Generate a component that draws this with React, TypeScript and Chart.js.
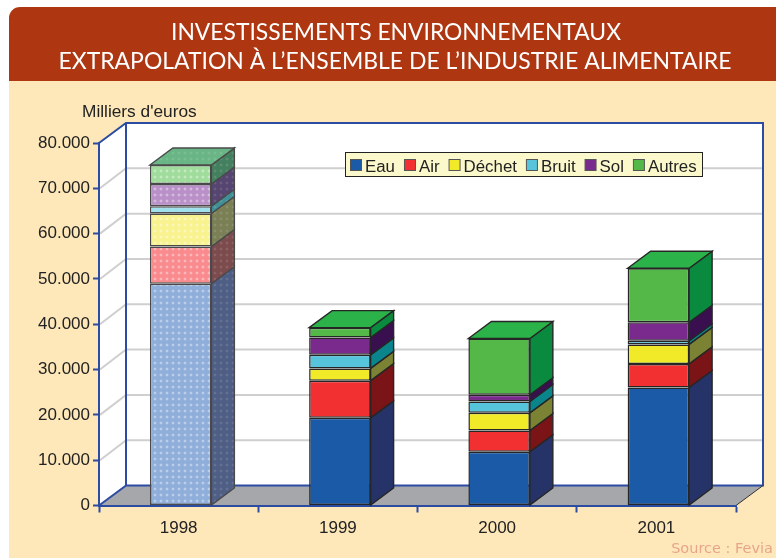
import React, { useEffect, useRef } from "react";
import { Chart, registerables } from "chart.js";

Chart.register(...registerables);

const categories = ["1998", "1999", "2000", "2001"];
const eau = [48950, 19350, 11850, 26050];
const air = [8200, 8200, 4700, 5200];
const dechet = [7300, 2700, 3900, 4300];
const bruit = [1600, 3000, 2500, 800];
const sol = [4900, 3800, 1500, 4100];
const autres = [4200, 2200, 12400, 11900];
const seriesNames = ["Eau", "Air", "Déchet", "Bruit", "Sol", "Autres"];
const seriesValues = [eau, air, dechet, bruit, sol, autres];

const frontColors = ["#1B5AA6", "#F23032", "#F0EA28", "#56C5DB", "#7A2A8C", "#54B848"];
const sideColors = ["#253368", "#7A1416", "#7C8233", "#0B858C", "#3A0F4F", "#0A8A3F"];
const paleFrontColors = ["#8FAEDA", "#F98A8E", "#F9F38F", "#A0E0EC", "#BA90C8", "#A0DC9C"];
const paleSideColors = ["#4F5E85", "#7C4B4E", "#7A7F55", "#3F8F96", "#564570", "#44805F"];
const topColor = "#2BB34A";
const paleTopColor = "#6AB585";
const patternedCategory = "1998";

const titleLines = ["INVESTISSEMENTS ENVIRONNEMENTAUX", "EXTRAPOLATION À L’ENSEMBLE DE L’INDUSTRIE ALIMENTAIRE"];
const unitLabel = "Milliers d'euros";
const sourceLabel = "Source : Fevia";

const FONT = '"Liberation Sans", Arial, sans-serif';
const BLUE = "#2C4CA3";
const CREAM = "#FEE8B9";
const WALL_DX = 27;
const WALL_DY = -20;
const BAR_DX = 23;
const BAR_DY = -17;
const BAR_SHIFT = 2;

function makePattern(base: string, alpha: number): CanvasPattern {
  const c = document.createElement("canvas");
  c.width = 6;
  c.height = 6;
  const g = c.getContext("2d")!;
  g.fillStyle = base;
  g.fillRect(0, 0, 6, 6);
  g.fillStyle = `rgba(255,255,255,${alpha * 0.45})`;
  g.fillRect(1, 2, 4, 2);
  g.fillRect(2, 1, 2, 4);
  g.fillStyle = `rgba(255,255,255,${alpha})`;
  g.fillRect(2, 2, 2, 2);
  return g.createPattern(c, "repeat")!;
}

function poly(ctx: CanvasRenderingContext2D, pts: number[][], fill: any, stroke: string) {
  ctx.beginPath();
  pts.forEach((p, i) => (i ? ctx.lineTo(p[0], p[1]) : ctx.moveTo(p[0], p[1])));
  ctx.closePath();
  ctx.fillStyle = fill;
  ctx.fill();
  ctx.strokeStyle = stroke;
  ctx.lineWidth = 1.4;
  ctx.stroke();
}

export default function App() {
  const ref = useRef<HTMLCanvasElement>(null);

  useEffect(() => {
    const isPatterned = (i: number) => categories[i] === patternedCategory;
    const frontFill = seriesNames.map((_, s) =>
      categories.map((_c, i) => (isPatterned(i) ? makePattern(paleFrontColors[s], 0.24) : frontColors[s]))
    );
    const sideFill = seriesNames.map((_, s) =>
      categories.map((_c, i) => (isPatterned(i) ? makePattern(paleSideColors[s], 0.07) : sideColors[s]))
    );
    const topPattern = makePattern(paleTopColor, 0.07);

    const scene = {
      id: "scene",
      beforeDraw(chart: any) {
        const ctx: CanvasRenderingContext2D = chart.ctx;
        const { left, right, top, bottom } = chart.chartArea;
        const y = chart.scales.y;
        ctx.save();
        ctx.fillStyle = "#FFFFFF";
        ctx.fillRect(0, 0, 776, 558);
        ctx.fillStyle = CREAM;
        ctx.fillRect(9, 81, 767, 477);
        ctx.fillStyle = "#AE3712";
        ctx.beginPath();
        ctx.roundRect(9, 7, 767, 74, [11, 0, 0, 0]);
        ctx.fill();
        ctx.fillStyle = "#FFFFFF";
        ctx.font = '24px Lato, "Open Sans", sans-serif';
        ctx.textAlign = "center";
        ctx.textBaseline = "alphabetic";
        ctx.fillText(titleLines[0], 396, 40, 450);
        ctx.fillText(titleLines[1], 395, 69, 673);

        ctx.fillStyle = "#222222";
        ctx.font = `17.3px ${FONT}`;
        ctx.textAlign = "left";
        ctx.fillText(unitLabel, 82, 117);
        ctx.fillStyle = "#E8A58A";
        ctx.font = '14.5px "DejaVu Sans", sans-serif';
        ctx.textAlign = "right";
        ctx.fillText(sourceLabel, 773, 553);

        // walls and floor
        const bx = left + WALL_DX;
        const rx = right + WALL_DX;
        const by = bottom + WALL_DY;
        const ty = top + WALL_DY;
        ctx.fillStyle = "#FFFFFF";
        ctx.beginPath();
        ctx.moveTo(left, top);
        ctx.lineTo(bx, ty);
        ctx.lineTo(rx, ty);
        ctx.lineTo(rx, by);
        ctx.lineTo(bx, by);
        ctx.lineTo(left, bottom);
        ctx.closePath();
        ctx.fill();
        ctx.fillStyle = "#A6A7AB";
        ctx.beginPath();
        ctx.moveTo(left, bottom);
        ctx.lineTo(bx, by);
        ctx.lineTo(rx, by);
        ctx.lineTo(right, bottom);
        ctx.closePath();
        ctx.fill();
        ctx.strokeStyle = "#CFCFCF";
        ctx.lineWidth = 2;
        y.ticks.forEach((t: any) => {
          if (t.value <= 0 || t.value >= y.max) return;
          const py = y.getPixelForValue(t.value);
          ctx.beginPath();
          ctx.moveTo(left + 1, py);
          ctx.lineTo(bx, py + WALL_DY);
          ctx.lineTo(rx - 1, py + WALL_DY);
          ctx.stroke();
        });
        ctx.strokeStyle = BLUE;
        ctx.lineWidth = 2;
        ctx.beginPath();
        ctx.moveTo(left, top);
        ctx.lineTo(bx, ty);
        ctx.lineTo(rx, ty);
        ctx.lineTo(rx, by);
        ctx.lineTo(bx, by);
        ctx.moveTo(bx, ty);
        ctx.lineTo(bx, by);
        ctx.lineTo(left, bottom);
        ctx.stroke();
        ctx.strokeStyle = "#333333";
        ctx.lineWidth = 1;
        ctx.beginPath();
        ctx.moveTo(right, bottom);
        ctx.lineTo(rx, by);
        ctx.stroke();

        // legend
        ctx.fillStyle = "#FBF9CB";
        ctx.fillRect(345.5, 152.5, 357, 24);
        ctx.strokeStyle = "#222222";
        ctx.strokeRect(345.5, 152.5, 357, 24);
        ctx.font = `16.85px ${FONT}`;
        ctx.textAlign = "left";
        let cx = 350;
        chart.data.datasets.forEach((ds: any, s: number) => {
          ctx.fillStyle = frontColors[s];
          ctx.fillRect(cx + 0.5, 159.5, 11, 11);
          ctx.strokeStyle = "#555555";
          ctx.strokeRect(cx + 0.5, 159.5, 11, 11);
          ctx.fillStyle = "#222222";
          ctx.fillText(ds.label, cx + 15, 171.5);
          cx += 15 + ctx.measureText(ds.label).width + 9;
        });
        ctx.restore();
      },
      beforeDatasetsDraw(chart: any) {
        const ctx: CanvasRenderingContext2D = chart.ctx;
        ctx.save();
        ctx.translate(BAR_SHIFT, 0);
        const last = chart.data.datasets.length - 1;
        chart.data.datasets.forEach((_ds: any, s: number) => {
          chart.getDatasetMeta(s).data.forEach((bar: any, i: number) => {
            const { x, y, base, width } = bar.getProps(["x", "y", "base", "width"], true);
            const r = x + width / 2;
            const l = x - width / 2;
            const edge = isPatterned(i) ? "#4A4A4A" : "#262626";
            poly(ctx, [[r, y], [r + BAR_DX, y + BAR_DY], [r + BAR_DX, base + BAR_DY], [r, base]], sideFill[s][i], edge);
            if (s === last) {
              poly(ctx, [[l, y], [l + BAR_DX, y + BAR_DY], [r + BAR_DX, y + BAR_DY], [r, y]], isPatterned(i) ? topPattern : topColor, edge);
            }
          });
        });
      },
      afterDatasetsDraw(chart: any) {
        chart.ctx.restore();
      },
    };

    const chart = new Chart(ref.current!, {
      type: "bar",
      data: {
        labels: categories,
        datasets: seriesNames.map((name, s) => ({
          label: name,
          data: seriesValues[s],
          backgroundColor: frontFill[s],
          borderColor: categories.map((_c, i) => (isPatterned(i) ? "#4A4A4A" : "#262626")),
          borderWidth: 1.5,
          borderSkipped: false,
          categoryPercentage: 0.386,
          barPercentage: 1,
          clip: false,
        })),
      },
      options: {
        responsive: false,
        animation: false,
        events: [],
        layout: { padding: { top: 143, right: 40, left: 0, bottom: 0 } },
        plugins: { legend: { display: false }, title: { display: false }, tooltip: { enabled: false } },
        scales: {
          x: {
            stacked: true,
            afterFit(scale: any) {
              scale.height = 52.5;
            },
            border: { color: BLUE, width: 2 },
            grid: { drawOnChartArea: false, drawTicks: true, tickLength: 7, tickColor: BLUE, tickWidth: 2, offset: true },
            ticks: { color: "#222222", font: { family: FONT, size: 17 }, padding: 6, maxRotation: 0 },
          },
          y: {
            stacked: true,
            min: 0,
            max: 80000,
            afterFit(scale: any) {
              scale.width = 99;
            },
            border: { color: BLUE, width: 2 },
            grid: { drawOnChartArea: false, drawTicks: true, tickLength: 6, tickColor: BLUE, tickWidth: 2 },
            ticks: {
              stepSize: 10000,
              color: "#222222",
              font: { family: FONT, size: 17 },
              padding: 3,
              callback: (v: any) => (v === 0 ? "0" : `${v / 1000}.000`),
            },
          },
        },
      },
      plugins: [scene],
    } as any);
    return () => chart.destroy();
  }, []);

  return (
    <div style={{ position: "fixed", left: 0, top: 0, width: 776, height: 558 }}>
      <canvas ref={ref} width={776} height={558} style={{ display: "block" }} />
    </div>
  );
}
